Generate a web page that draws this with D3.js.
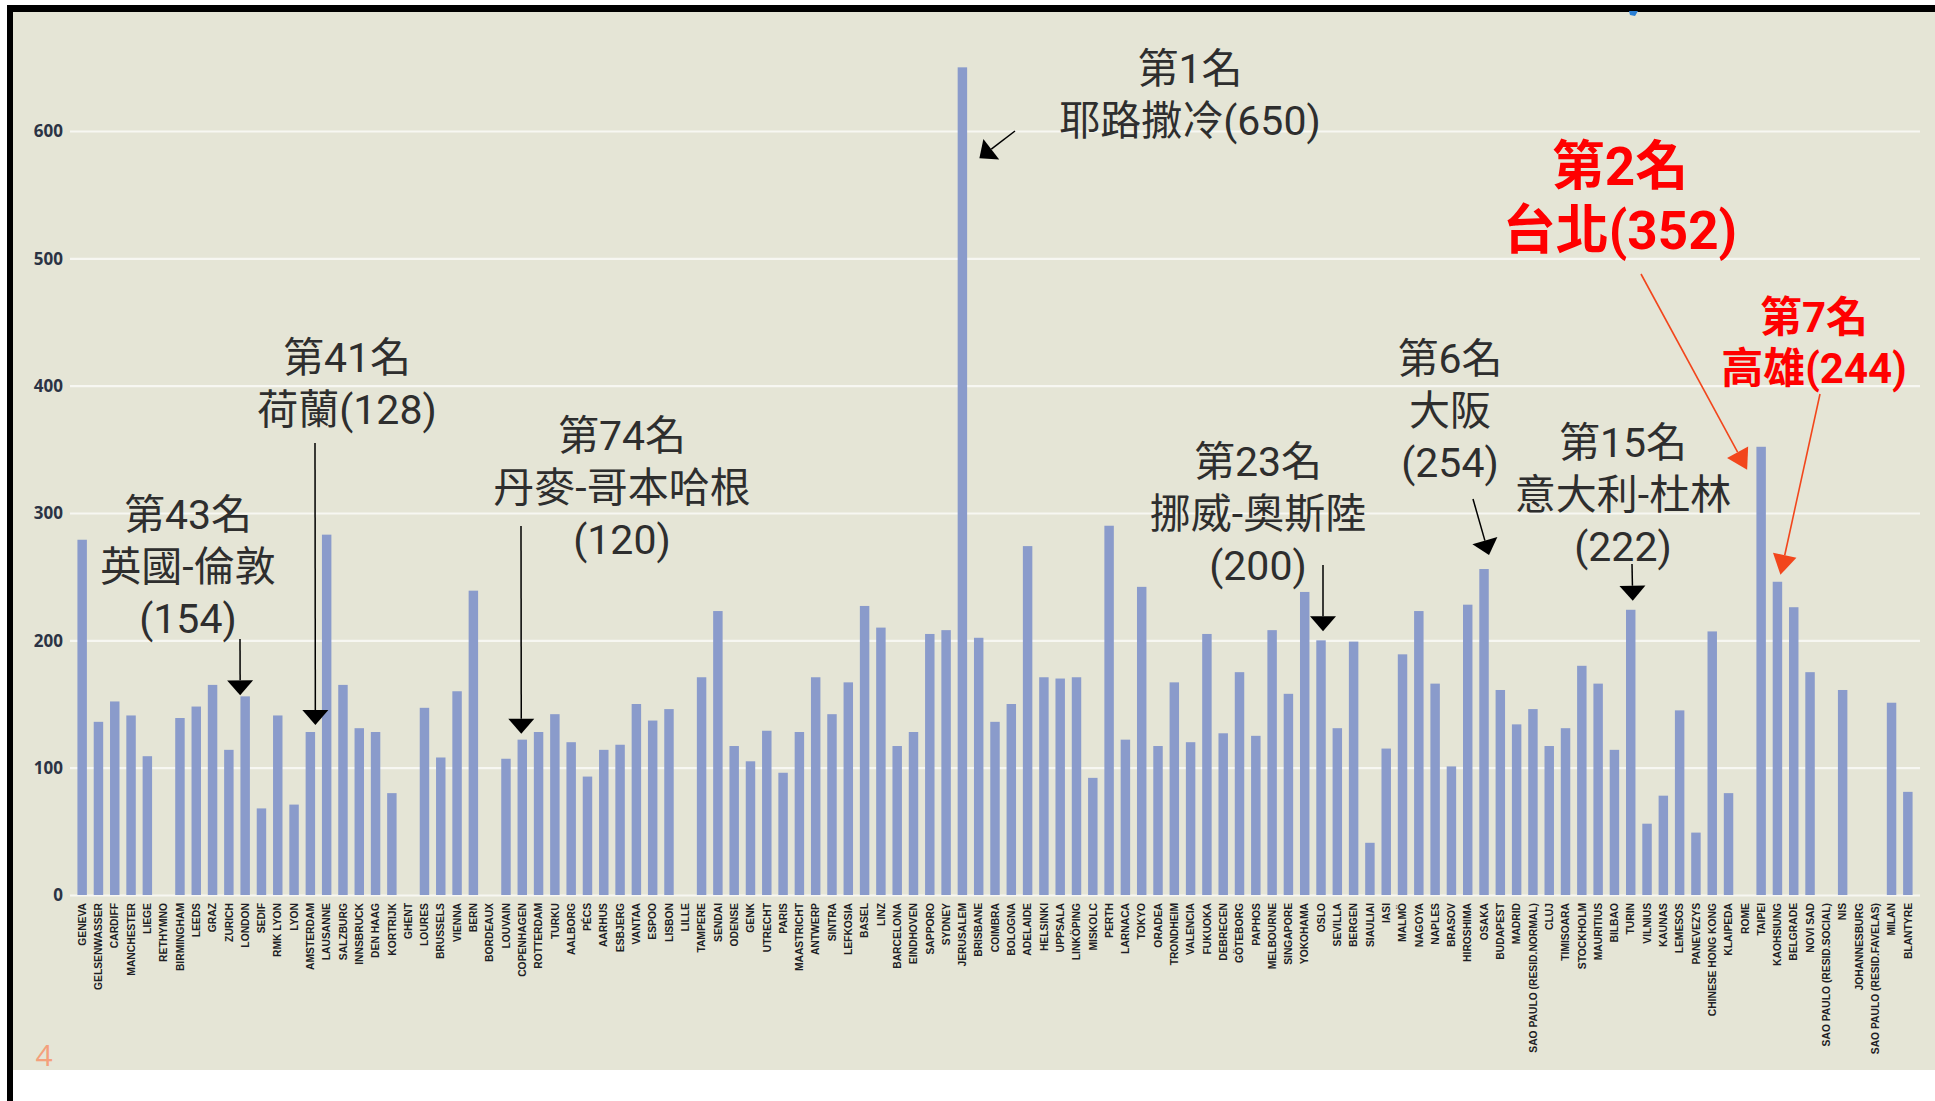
<!DOCTYPE html>
<html><head><meta charset="utf-8">
<script src="https://cdn.jsdelivr.net/npm/d3@7"></script>
<style>body{margin:0;background:#fff;overflow:hidden}</style>
</head><body><svg id="c" width="1935" height="1101"></svg>
<script>
const cities = ["GENEVA","GELSENWASSER","CARDIFF","MANCHESTER","LIEGE","RETHYMNO","BIRMINGHAM","LEEDS","GRAZ","ZURICH","LONDON","SEDIF","RMK LYON","LYON","AMSTERDAM","LAUSANNE","SALZBURG","INNSBRUCK","DEN HAAG","KORTRIJK","GHENT","LOURES","BRUSSELS","VIENNA","BERN","BORDEAUX","LOUVAIN","COPENHAGEN","ROTTERDAM","TURKU","AALBORG","PÉCS","AARHUS","ESBJERG","VANTAA","ESPOO","LISBON","LILLE","TAMPERE","SENDAI","ODENSE","GENK","UTRECHT","PARIS","MAASTRICHT","ANTWERP","SINTRA","LEFKOSIA","BASEL","LINZ","BARCELONA","EINDHOVEN","SAPPORO","SYDNEY","JERUSALEM","BRISBANE","COIMBRA","BOLOGNA","ADELAIDE","HELSINKI","UPPSALA","LINKÖPING","MISKOLC","PERTH","LARNACA","TOKYO","ORADEA","TRONDHEIM","VALENCIA","FUKUOKA","DEBRECEN","GÖTEBORG","PAPHOS","MELBOURNE","SINGAPORE","YOKOHAMA","OSLO","SEVILLA","BERGEN","SIAULIAI","IASI","MALMÖ","NAGOYA","NAPLES","BRASOV","HIROSHIMA","OSAKA","BUDAPEST","MADRID","SAO PAULO (RESID.NORMAL)","CLUJ","TIMISOARA","STOCKHOLM","MAURITIUS","BILBAO","TURIN","VILNIUS","KAUNAS","LEMESOS","PANEVEZYS","CHINESE HONG KONG","KLAIPEDA","ROME","TAIPEI","KAOHSIUNG","BELGRADE","NOVI SAD","SAO PAULO (RESID.SOCIAL)","NIS","JOHANNESBURG","SAO PAULO (RESID.FAVELAS)","MILAN","BLANTYRE"];

const values = [279,136,152,141,109,null,139,148,165,114,156,68,141,71,128,283,165,131,128,80,null,147,108,160,239,null,107,122,128,142,120,93,114,118,150,137,146,null,171,223,117,105,129,96,128,171,142,167,227,210,117,128,205,208,650,202,136,150,274,171,170,171,92,290,122,242,117,167,120,205,127,175,125,208,158,238,200,131,199,41,115,189,223,166,101,228,256,161,134,146,117,131,180,166,114,224,56,78,145,49,207,80,null,352,246,226,175,null,161,null,null,151,81];

const yTicks = [0,100,200,300,400,500,600];

const annotations = [
  {city:"LONDON", lines:["第43名","英國-倫敦","(154)"], red:false},
  {city:"AMSTERDAM", lines:["第41名","荷蘭(128)"], red:false},
  {city:"COPENHAGEN", lines:["第74名","丹麥-哥本哈根","(120)"], red:false},
  {city:"JERUSALEM", lines:["第1名","耶路撒冷(650)"], red:false},
  {city:"OSLO", lines:["第23名","挪威-奧斯陸","(200)"], red:false},
  {city:"OSAKA", lines:["第6名","大阪","(254)"], red:false},
  {city:"TURIN", lines:["第15名","意大利-杜林","(222)"], red:false},
  {city:"TAIPEI", lines:["第2名","台北(352)"], red:true},
  {city:"KAOHSIUNG", lines:["第7名","高雄(244)"], red:true}
];
// layout of annotation text / arrows (pixel layout, not data)
const annLayout = {
  LONDON:     {tx:188, ty:514, lh:52, fs:41, sx:240, sy:639, dx:-5, dy:-1},
  AMSTERDAM:  {tx:347, ty:357, lh:52, fs:41, sx:315, sy:443, dx:5, dy:-7},
  COPENHAGEN: {tx:622, ty:435, lh:52, fs:41, sx:521, sy:526, dx:-1, dy:-6},
  JERUSALEM:  {tx:1190, ty:68, lh:52, fs:41, sx:1015, sy:131, dx:17, dy:91},
  OSLO:       {tx:1258, ty:461, lh:52, fs:41, sx:1323, sy:565, dx:2, dy:-9},
  OSAKA:      {tx:1450, ty:358, lh:52, fs:41, sx:1473, sy:499, dx:5, dy:-14},
  TURIN:      {tx:1623, ty:442, lh:52, fs:41, sx:1632, sy:564, dx:2, dy:-9},
  TAIPEI:     {tx:1620, ty:166, lh:64, fs:53, sx:1641, sy:274, dx:-14, dy:23},
  KAOHSIUNG:  {tx:1814, ty:317, lh:51, fs:42, sx:1820, sy:394, dx:3, dy:-7}
};

const svg = d3.select("#c");
// frame
svg.append("rect").attr("x",0).attr("y",0).attr("width",1935).attr("height",1101).attr("fill","#ffffff");
svg.append("rect").attr("x",7).attr("y",5).attr("width",1935).attr("height",1101).attr("fill","#000");
svg.append("rect").attr("x",13).attr("y",12).attr("width",1935).attr("height",1058).attr("fill","#e5e5d6");
svg.append("rect").attr("x",13).attr("y",1070).attr("width",1935).attr("height",40).attr("fill","#ffffff");
// little blue mark at top
svg.append("path").attr("d","M1629,11 L1638,11 L1635,16 L1630,15 Z").attr("fill","#2a7fd4");

const x = d3.scaleBand().domain(cities).range([74,1916]).paddingInner(0.42).paddingOuter(0.21);
const y = d3.scaleLinear().domain([0,600]).range([895,131]);

// gridlines + y axis
const yAxis = d3.axisLeft(y).tickValues(yTicks).tickSize(-(1920-70)).tickPadding(7);
const ga = svg.append("g").attr("transform","translate(70,0)").call(yAxis);
ga.select(".domain").remove();
ga.selectAll(".tick line").attr("stroke","#f7f7f2").attr("stroke-width",2.2);
ga.selectAll(".tick text").attr("fill","#2b3344").attr("font-family","'Open Sans', 'DejaVu Sans', sans-serif")
  .attr("font-weight","bold").attr("font-size","17px").attr("dy","0.35em");

// bars
const data = cities.map((c,i)=>({c, v:values[i]}));
svg.append("g").selectAll("rect").data(data.filter(d=>d.v!=null)).join("rect")
  .attr("x",d=>x(d.c)).attr("width",x.bandwidth())
  .attr("y",d=>y(d.v)).attr("height",d=>y(0)-y(d.v))
  .attr("fill","#8a9bcb");

// x labels
const xAxis = d3.axisBottom(x).tickSize(0).tickPadding(0);
const gx = svg.append("g").attr("transform","translate(0,903)").call(xAxis);
gx.select(".domain").remove();
gx.selectAll(".tick text")
  .attr("transform","rotate(-90)")
  .attr("text-anchor","end").attr("x",0).attr("y",0).attr("dy","0.36em")
  .attr("fill","#1e1e24").attr("font-family","'Liberation Sans', Arial, sans-serif")
  .attr("font-weight","bold").attr("font-size","10.3px");

// annotations
function arrowHead(g, tx, ty, sx, sy, len, wid, color){
  const ang = Math.atan2(ty-sy, tx-sx);
  const bx = tx - len*Math.cos(ang), by = ty - len*Math.sin(ang);
  const px = -Math.sin(ang)*wid/2, py = Math.cos(ang)*wid/2;
  g.append("path").attr("d",`M${tx},${ty} L${bx+px},${by+py} L${bx-px},${by-py} Z`).attr("fill",color);
  return [bx,by];
}
const ag = svg.append("g");
annotations.forEach(a=>{
  const L = annLayout[a.city];
  const i = cities.indexOf(a.city);
  const color = a.red ? "#ff0000" : "#2e2e2e";
  a.lines.forEach((ln,k)=>{
    ag.append("text").attr("text-anchor","middle")
      .attr("font-family","Roboto,'Noto Sans CJK TC','Noto Sans CJK SC',sans-serif")
      .attr("font-size",L.fs+"px").attr("font-weight",a.red?"bold":"normal").attr("fill",color)
      .attr("x",L.tx).attr("y",L.ty+k*L.lh).attr("dy","0.36em").text(ln);
  });
  const tipX = x(a.city)+x.bandwidth()/2 + L.dx;
  const tipY = y(values[i]) + L.dy;
  const acol = a.red ? "#f2461c" : "#000";
  const len = a.red ? 20 : 15, wid = a.red ? 24 : 26;
  const [bx,by] = arrowHead(ag, tipX, tipY, L.sx, L.sy, len, wid, acol);
  ag.append("line").attr("x1",L.sx).attr("y1",L.sy).attr("x2",bx).attr("y2",by)
    .attr("stroke",acol).attr("stroke-width",a.red?1.6:1.5);
});

// page number
svg.append("text").attr("x",44).attr("y",1066).attr("text-anchor","middle")
  .attr("font-family","'Open Sans',sans-serif").attr("font-size","30px").attr("fill","#f4a07c").text("4");
</script></body></html>
